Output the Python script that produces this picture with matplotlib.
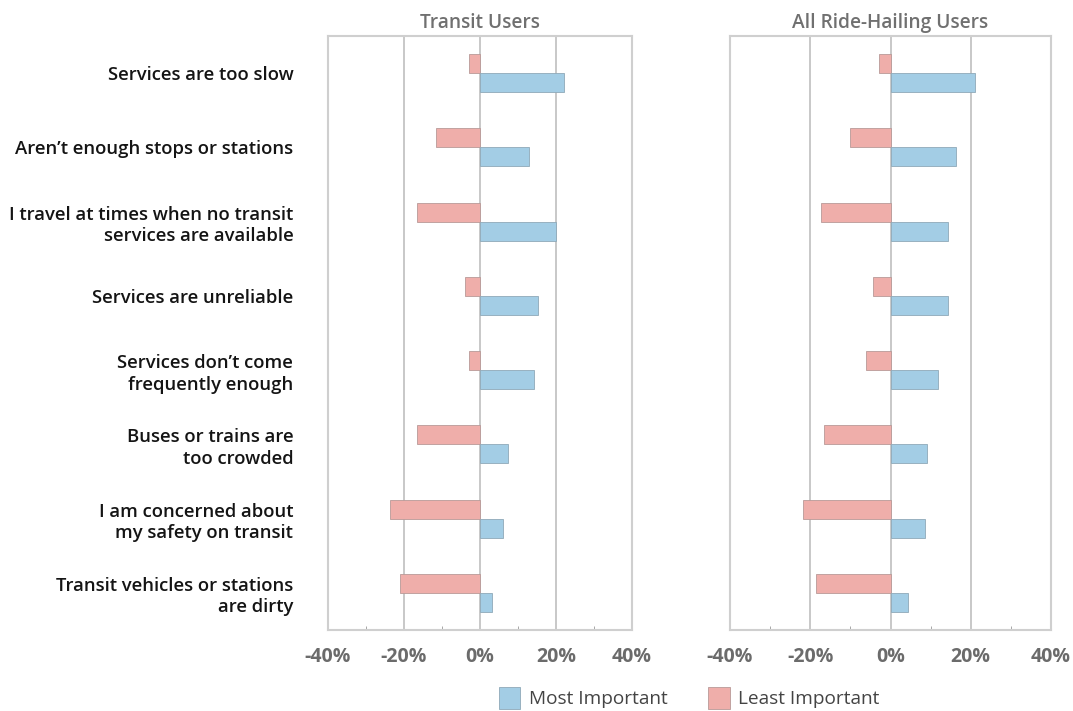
import matplotlib.pyplot as plt
import numpy as np
from matplotlib.patches import Patch

plt.rcParams['font.family'] = ['Open Sans', 'DejaVu Sans']

categories = ["Services are too slow",
              "Aren't enough stops or stations",
              "I travel at times when no transit\nservices are available",
              "Services are unreliable",
              "Services don't come\nfrequently enough",
              "Buses or trains are\ntoo crowded",
              "I am concerned about\nmy safety on transit",
              "Transit vehicles or stations\nare dirty"]
categories = [c.replace("'", "\u2019") for c in categories]

transit_most = [22, 13, 20, 15.2, 14.1, 7.3, 6, 3.2]
transit_least = [-2.8, -11.5, -16.5, -3.9, -3, -16.6, -23.7, -21]
rh_most = [21, 16.4, 14.3, 14.3, 11.8, 9, 8.6, 4.4]
rh_least = [-2.9, -10.2, -17.4, -4.4, -6.2, -16.5, -21.7, -18.6]

panels = [("Transit Users", transit_most, transit_least),
          ("All Ride-Hailing Users", rh_most, rh_least)]

blue = '#a3cde5'
pink = '#efaeaa'
grid_c = '#c4c4c4'
tick_c = '#6b6b6b'

fig = plt.figure(figsize=(10.73, 7.11), dpi=100)
W, H = 1073, 711
axes = [fig.add_axes([328 / W, 1 - 630 / H, 304 / W, 594 / H]),
        fig.add_axes([730 / W, 1 - 630 / H, 321 / W, 594 / H])]

y = np.arange(len(categories))
bh = 0.255
for ax, (title, most, least) in zip(axes, panels):
    ax.barh(y - bh / 2, least, height=bh, color=pink, edgecolor='#b89a98', linewidth=0.6, zorder=3)
    ax.barh(y + bh / 2, most, height=bh, color=blue, edgecolor='#8fa9b8', linewidth=0.6, zorder=3)
    ax.set_xlim(-40, 40)
    ax.set_ylim(7.5, -0.5)
    ax.set_xticks([-40, -20, 0, 20, 40])
    ax.set_xticklabels(['-40%', '-20%', '0%', '20%', '40%'], fontsize=14,
                       fontweight='bold', color=tick_c)
    ax.set_xticks([-30, -10, 10, 30], minor=True)
    ax.tick_params(axis='x', which='major', length=0, pad=12)
    ax.tick_params(axis='x', which='minor', length=3, direction='in', color='#999999')
    for xv in [-20, 0, 20]:
        ax.axvline(xv, color=grid_c, linewidth=1.3, zorder=1)
    for s in ax.spines.values():
        s.set_color('#cfcfcf')
        s.set_linewidth(1.5)
    ax.set_title(title, fontsize=13.8, color='#707070', fontweight='semibold', pad=6)
    ax.set_yticks(y)
    ax.tick_params(axis='y', length=0, pad=25)

axes[0].set_yticklabels(categories, fontsize=13.3, fontweight='semibold', color='#141414',
                        ha='right', multialignment='right', linespacing=1.25)
axes[1].set_yticklabels([])

handles = [Patch(facecolor=blue, edgecolor='#8fa9b8', linewidth=0.6, label='Most Important'),
           Patch(facecolor=pink, edgecolor='#b89a98', linewidth=0.6, label='Least Important')]
fig.legend(handles=handles, loc='center', bbox_to_anchor=(689 / W, 1 - 698 / H), ncol=2,
           frameon=False, fontsize=13.7, handlelength=1.15, handleheight=1.35,
           handletextpad=0.45, columnspacing=2.1, labelcolor='#444444')

fig.savefig('out.png', dpi=100)
